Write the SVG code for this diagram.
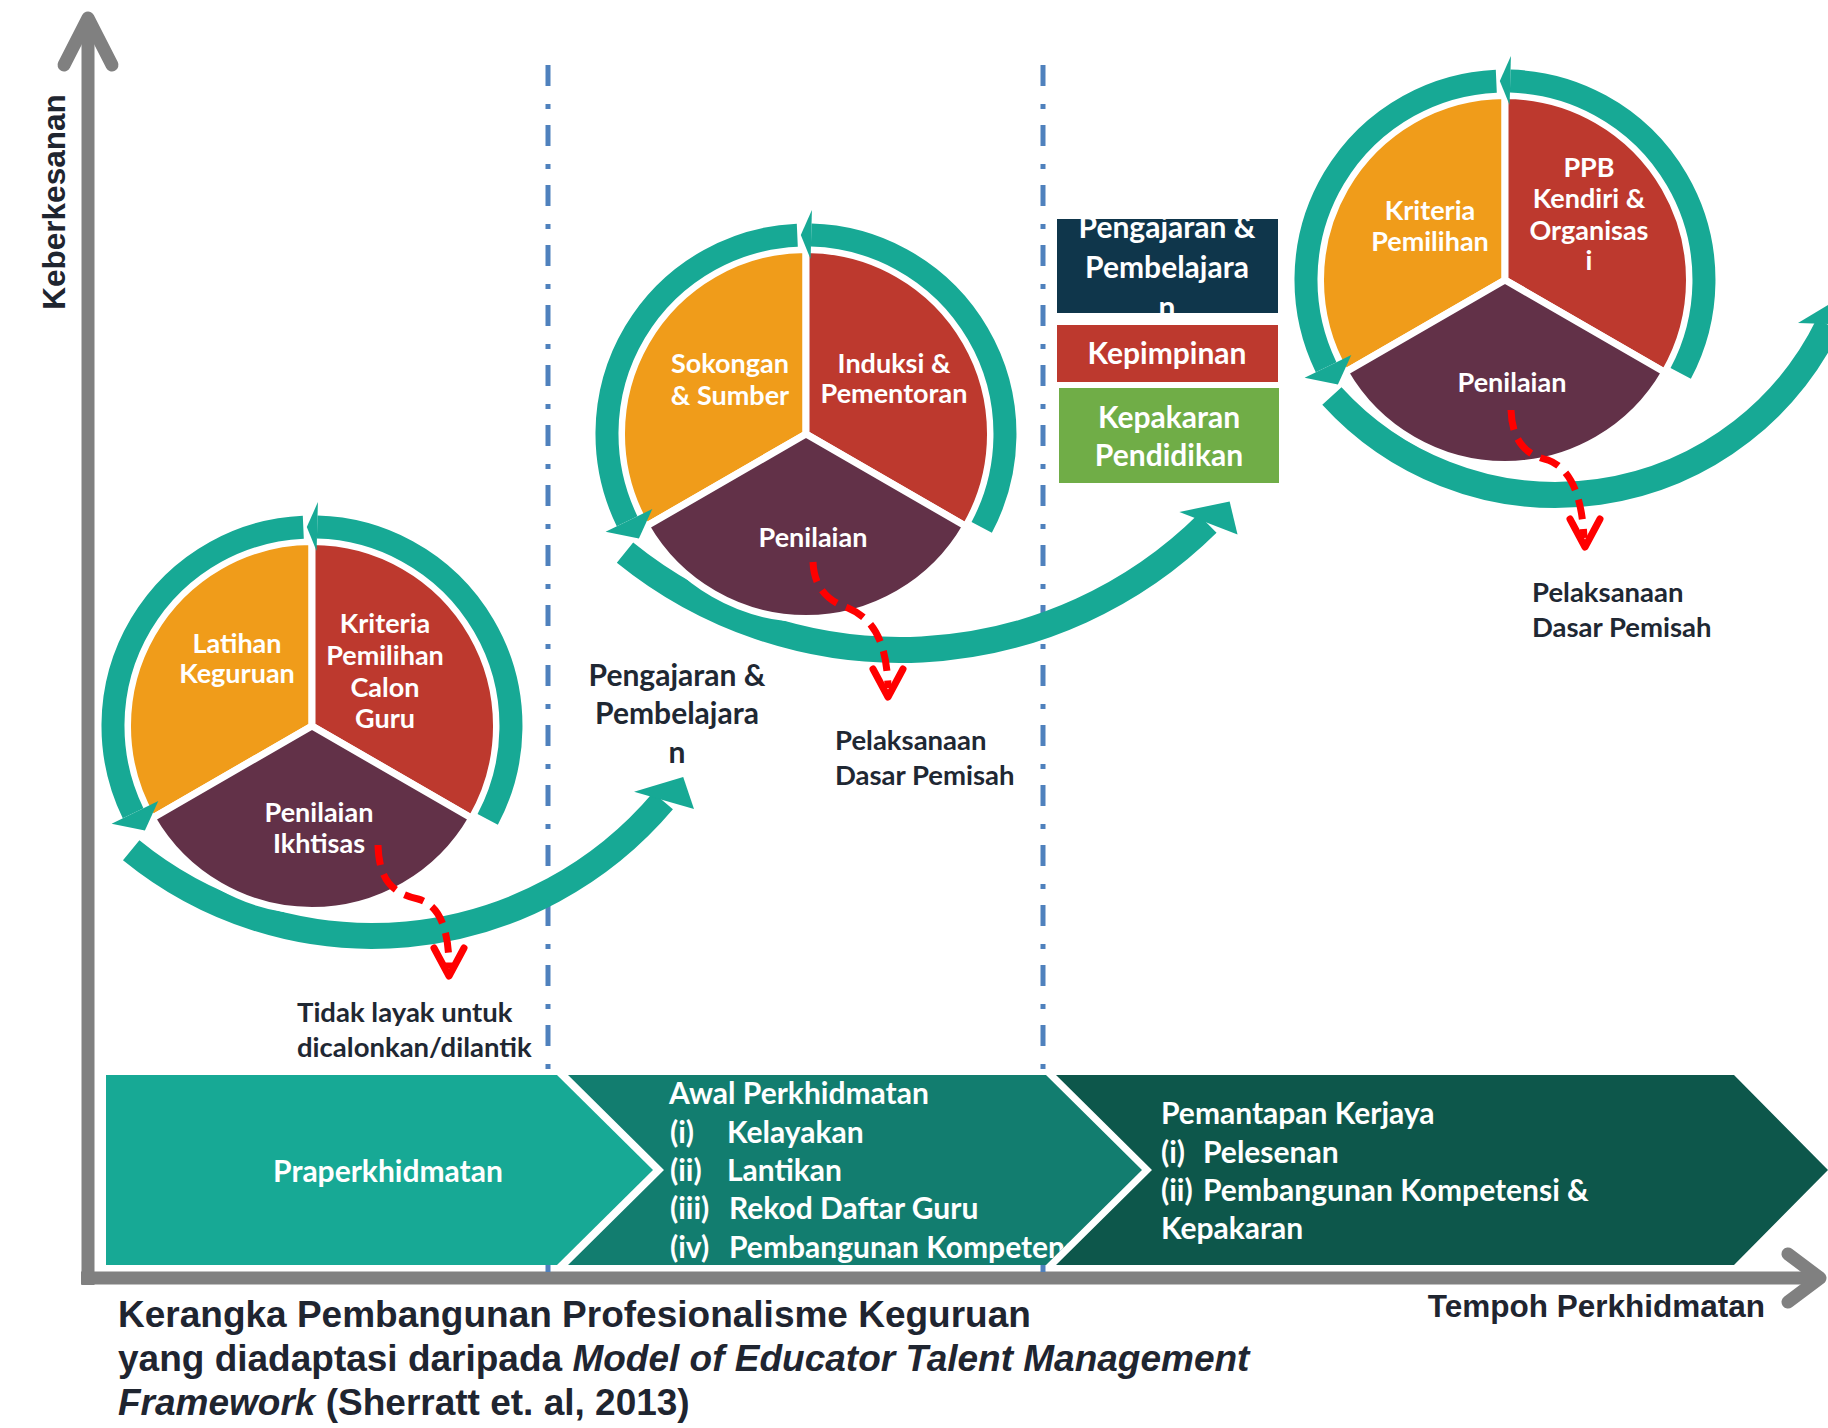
<svg xmlns="http://www.w3.org/2000/svg" width="1828" height="1428" viewBox="0 0 1828 1428">
<style>
.t{font-family:Lato,'Open Sans','DejaVu Sans',sans-serif;font-weight:700;font-size:27px}
.lt{font-size:27.5px}
.bt{font-size:30px}
.w{fill:#fff}
.k{fill:#1f2833}
.m{text-anchor:middle}
.or{fill:#f09c1a}
.rd{fill:#bd392e}
.pu{fill:#623148}
.sec{stroke:#fff;stroke-width:7;stroke-linejoin:round}
.ring{fill:none;stroke:#17a995;stroke-width:23}
.tl{fill:#17a995}
.sweep{fill:none;stroke:#17a995;stroke-width:26}
.red{fill:none;stroke:#ff0000;stroke-width:7;stroke-dasharray:20 10}
.redh{fill:none;stroke:#ff0000;stroke-width:7;stroke-linecap:round;stroke-linejoin:round}
.axl{fill:none;stroke:#808080;stroke-width:13}
.axh{fill:none;stroke:#808080;stroke-width:13;stroke-linecap:round;stroke-linejoin:round}
.vd{fill:none;stroke:#4f81bd;stroke-width:5;stroke-dasharray:21 18 5 16}
.cap{font-family:'Liberation Sans',Arial,sans-serif;font-weight:700;font-size:37px;fill:#1f2530}
.axt{font-family:'Liberation Sans',Arial,sans-serif;font-weight:700;font-size:31.5px;fill:#1f2530}
</style>
<defs>
<g id="wheel">
<path class="or sec" d="M0,0 L0,-184.5 A184.5,184.5 0 0 0 -159.8,92.25 Z"/>
<path class="rd sec" d="M0,0 L0,-184.5 A184.5,184.5 0 0 1 159.8,92.25 Z"/>
<path class="pu sec" d="M0,0 L-159.8,92.25 A184.5,184.5 0 0 0 159.8,92.25 Z"/>
<path class="ring" d="M175.7,93.4 A199,199 0 0 0 5.2,-198.9"/>
<polygon class="tl" points="4.6,-174.9 5.9,-223.9 -5.2,-198.9"/>
<path class="ring" d="M-8.7,-198.8 A199,199 0 0 0 -178.9,87.2"/>
<polygon class="tl" points="-153.7,75 -200.4,97.8 -167.1,104.4"/>
</g>
<polygon id="sweephead" points="-11.7,-28 31.3,0 13.8,28.9"/>
<polyline id="redhead" points="-15,-28 0,0 15,-28"/>
<clipPath id="clipPP"><rect x="1057" y="219" width="221" height="94"/></clipPath>
<clipPath id="clipAwal"><polygon points="568,1075 1046,1075 1142,1170 1046,1265 568,1265 664,1170"/></clipPath>
</defs>

<g id="axes">
<path class="axl" d="M88,1285 V22"/>
<polyline class="axh" points="64,65 88,18 112,65"/>
<path class="axl" d="M81,1278 H1816"/>
<polyline class="axh" points="1788,1254 1820,1278 1788,1302"/>
<text class="axt m" transform="translate(65,202) rotate(-90)">Keberkesanan</text>
<text class="axt" x="1765" y="1317" text-anchor="end">Tempoh Perkhidmatan</text>
</g>

<g id="dividers">
<path class="vd" d="M548,65 V1272"/>
<path class="vd" d="M1043,65 V1272"/>
</g>

<g id="band-praperkhidmatan">
<polygon fill="#17a995" points="106,1075 557,1075 653,1170 557,1265 106,1265"/>
<text class="t bt w m" x="388" y="1182">Praperkhidmatan</text>
</g>
<g id="band-awal">
<polygon fill="#127d6f" points="568,1075 1046,1075 1142,1170 1046,1265 568,1265 664,1170"/>
<g clip-path="url(#clipAwal)">
<text class="t bt w" x="669" y="1104">Awal Perkhidmatan</text>
<text class="t bt w" y="1143"><tspan x="670">(i)</tspan><tspan x="727">Kelayakan</tspan></text>
<text class="t bt w" y="1181"><tspan x="670">(ii)</tspan><tspan x="727">Lantikan</tspan></text>
<text class="t bt w" y="1219"><tspan x="670">(iii)</tspan><tspan x="729">Rekod Daftar Guru</tspan></text>
<text class="t bt w" y="1258"><tspan x="670">(iv)</tspan><tspan x="729">Pembangunan Kompetensi</tspan></text>
</g>
</g>
<g id="band-pemantapan">
<polygon fill="#0d574b" points="1056,1075 1734,1075 1828,1170 1734,1265 1056,1265 1152,1170"/>
<text class="t bt w" x="1161" y="1124">Pemantapan Kerjaya</text>
<text class="t bt w" y="1163"><tspan x="1161">(i)</tspan><tspan x="1203">Pelesenan</tspan></text>
<text class="t bt w" y="1201"><tspan x="1161">(ii)</tspan><tspan x="1203">Pembangunan Kompetensi &amp;</tspan></text>
<text class="t bt w" x="1161" y="1239">Kepakaran</text>
</g>

<g id="box-pengajaran">
<rect x="1057" y="219" width="221" height="94" fill="#0f364b"/>
<g clip-path="url(#clipPP)">
<text class="t bt w m" x="1167" y="238">Pengajaran &amp;</text>
<text class="t bt w m" x="1167" y="278">Pembelajara</text>
<text class="t bt w m" x="1167" y="318">n</text>
</g>
</g>
<g id="box-kepimpinan">
<rect x="1057" y="325" width="221" height="57" fill="#bd392e"/>
<text class="t bt w m" x="1167" y="364">Kepimpinan</text>
</g>
<g id="box-kepakaran">
<rect x="1059" y="388" width="220" height="95" fill="#70ad47"/>
<text class="t bt w m" x="1169" y="428">Kepakaran</text>
<text class="t bt w m" x="1169" y="466">Pendidikan</text>
</g>

<g id="connectors">
<path class="sweep" d="M131.2,850.2 A381,381 0 0 0 663,800.9"/>
<use href="#sweephead" class="tl" transform="translate(663,800.9) rotate(-49.8)"/>
<path class="sweep" d="M625,552.6 A437,437 0 0 0 1207.4,523.6"/>
<use href="#sweephead" class="tl" transform="translate(1207.4,523.6) rotate(-44.7)"/>
<path class="sweep" d="M1331.9,395.9 A303,303 0 0 0 1828.3,324.8"/>
<use href="#sweephead" class="tl" transform="translate(1828.3,324.8) rotate(-64)"/>
</g>

<g id="wheel-praperkhidmatan" transform="translate(312,726)">
<use href="#wheel"/>
<text class="t w m" x="-75" y="-73">Latihan</text>
<text class="t w m" x="-75" y="-43">Keguruan</text>
<text class="t w m" x="73" y="-93">Kriteria</text>
<text class="t w m" x="73" y="-61">Pemilihan</text>
<text class="t w m" x="73" y="-29">Calon</text>
<text class="t w m" x="73" y="2">Guru</text>
<text class="t w m" x="7" y="96">Penilaian</text>
<text class="t w m" x="7" y="127">Ikhtisas</text>
</g>

<g id="wheel-awal" transform="translate(806,434)">
<use href="#wheel"/>
<text class="t w m" x="-76" y="-61">Sokongan</text>
<text class="t w m" x="-76" y="-29">&amp; Sumber</text>
<text class="t w m" x="88" y="-61">Induksi &amp;</text>
<text class="t w m" x="88" y="-31">Pementoran</text>
<text class="t w m" x="7" y="113">Penilaian</text>
</g>

<g id="wheel-pemantapan" transform="translate(1505,280)">
<use href="#wheel"/>
<text class="t w m" x="-75" y="-60">Kriteria</text>
<text class="t w m" x="-75" y="-29">Pemilihan</text>
<text class="t w m" x="84" y="-103">PPB</text>
<text class="t w m" x="84" y="-72">Kendiri &amp;</text>
<text class="t w m" x="84" y="-40">Organisas</text>
<text class="t w m" x="84" y="-10">i</text>
<text class="t w m" x="7" y="112">Penilaian</text>
</g>

<g id="exit-arrows">
<path class="red" d="M378,845 C379,880 392,893 418,899 C440,905 449,930 449,968"/>
<use href="#redhead" class="redh" transform="translate(449,976)"/>
<path class="red" d="M813,562 C814,585 825,600 848,608 C872,618 887,640 888,688"/>
<use href="#redhead" class="redh" transform="translate(888,697)"/>
<path class="red" d="M1511,410 C1512,440 1525,455 1548,460 C1570,468 1582,495 1584,538"/>
<use href="#redhead" class="redh" transform="translate(1585,547)"/>
</g>

<g id="labels">
<text class="t lt k" x="297" y="1022">Tidak layak untuk</text>
<text class="t lt k" x="297" y="1057">dicalonkan/dilantik</text>
<text class="t bt k m" x="677" y="686">Pengajaran &amp;</text>
<text class="t bt k m" x="677" y="724">Pembelajara</text>
<text class="t bt k m" x="677" y="763">n</text>
<text class="t lt k" x="835" y="750">Pelaksanaan</text>
<text class="t lt k" x="835" y="785">Dasar Pemisah</text>
<text class="t lt k" x="1532" y="602">Pelaksanaan</text>
<text class="t lt k" x="1532" y="637">Dasar Pemisah</text>
</g>

<g id="caption">
<text class="cap" x="118" y="1327">Kerangka Pembangunan Profesionalisme Keguruan</text>
<text class="cap" x="118" y="1371">yang diadaptasi daripada <tspan font-style="italic">Model of Educator Talent Management</tspan></text>
<text class="cap" x="118" y="1415"><tspan font-style="italic">Framework</tspan> (Sherratt et. al, 2013)</text>
</g>
</svg>
